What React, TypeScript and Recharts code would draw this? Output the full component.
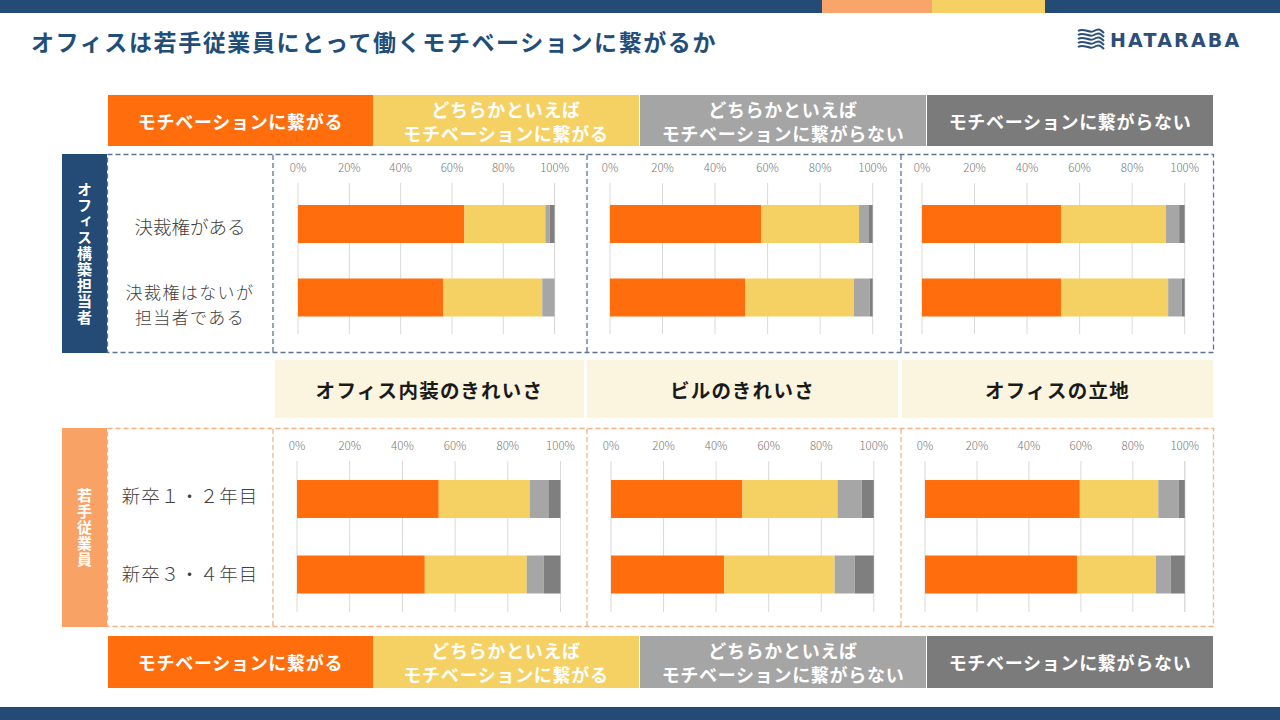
import React from 'react';
import { BarChart, Bar, XAxis, YAxis, CartesianGrid } from 'recharts';

const legendLabels = [
  ['モチベーションに繋がる'],
  ['どちらかといえば', 'モチベーションに繋がる'],
  ['どちらかといえば', 'モチベーションに繋がらない'],
  ['モチベーションに繋がらない'],
];
const seriesKeys = ['yes', 'ratherYes', 'ratherNo', 'no'];
const seriesColors = ['#FF6D0D', '#F4D162', '#A6A6A6', '#7F7F7F'];
const legendColors = ['#FF6D0D', '#F4D162', '#A5A5A5', '#7B7B7B'];

const upperRows = ['決裁権がある', '決裁権はないが担当者である'];
const lowerRows = ['新卒１・２年目', '新卒３・４年目'];
const factors = ['オフィス内装のきれいさ', 'ビルのきれいさ', 'オフィスの立地'];
const pctTicks = [0, 20, 40, 60, 80, 100];

// [motivates, rather motivates, rather not, not] in %
const upperInterior = [[64.8, 31.6, 1.7, 1.9], [56.6, 38.6, 4.8, 0]];
const upperBuilding = [[57.5, 37.3, 3.8, 1.4], [51.4, 41.4, 6.1, 1.1]];
const upperLocation = [[53.0, 39.9, 5.0, 2.1], [53.0, 40.7, 5.2, 1.1]];
const lowerInterior = [[53.8, 34.5, 7.1, 4.6], [48.5, 38.7, 6.4, 6.4]];
const lowerBuilding = [[50.0, 36.2, 9.2, 4.6], [43.1, 42.0, 7.6, 7.3]];
const lowerLocation = [[59.6, 30.2, 7.8, 2.4], [58.5, 30.4, 5.7, 5.4]];

const buildRows = (rows: string[], vals: number[][]) =>
  rows.map((name, i) => {
    const o: any = { name };
    seriesKeys.forEach((k, j) => (o[k] = vals[i][j]));
    return o;
  });

const FONT = '"Noto Sans CJK JP", "Noto Sans", sans-serif';
const NAVY = '#234B75';

const upperPlotX = [[297.7, 554.3], [609.9, 872.6], [922, 1184.7]];
const lowerPlotX = [[296.5, 560], [610.6, 873.4], [925.2, 1185]];

function Panel({ data, x0, x1, top, padTop }: any) {
  const w = x1 - x0;
  return (
    <div style={{ position: 'absolute', left: x0 - 20, top }}>
      <BarChart
        width={w + 40}
        height={189}
        data={data}
        layout="vertical"
        margin={{ top: 5, right: 20, bottom: 5, left: 20 }}
        barSize={38}
      >
        <CartesianGrid horizontal={false} stroke="#D9D9D9" />
        <XAxis
          type="number"
          orientation="top"
          domain={[0, 100]}
          ticks={pctTicks}
          tickFormatter={(v: number) => `${v}%`}
          axisLine={false}
          tickLine={false}
          tickSize={6}
          tickMargin={5}
          height={28}
          tick={{ fontSize: 11.5, fill: '#767676', fontFamily: FONT, fontWeight: 300 }}
        />
        <YAxis type="category" dataKey="name" hide padding={{ top: padTop, bottom: 0 }} />
        {seriesKeys.map((k, i) => (
          <Bar key={k} dataKey={k} stackId="s" fill={seriesColors[i]} isAnimationActive={false} />
        ))}
      </BarChart>
    </div>
  );
}

function Legend({ top, height }: { top: number; height: number }) {
  const xs = [[108, 373], [373, 639], [640, 926], [927, 1213]];
  return (
    <>
      {legendLabels.map((lines, i) => (
        <div
          key={i}
          style={{
            position: 'absolute',
            left: xs[i][0],
            top,
            width: xs[i][1] - xs[i][0],
            height,
            background: legendColors[i],
            color: '#fff',
            fontWeight: 700,
            fontSize: 18,
            lineHeight: '24px',
            display: 'flex',
            flexDirection: 'column',
            alignItems: 'center',
            justifyContent: 'center',
            letterSpacing: 0.7,
          }}
        >
          {lines.map((l, j) => (
            <div key={j}>{l}</div>
          ))}
        </div>
      ))}
    </>
  );
}

function Logo() {
  const waves = [0, 4, 8, 12, 16];
  return (
    <div style={{ position: 'absolute', left: 1077, top: 28, display: 'flex', alignItems: 'center' }}>
      <svg width={28} height={24}>
        {waves.map((dy, i) => (
          <path
            key={i}
            d={`M1 ${3 + dy} C7 ${-1 + dy}, 12 ${6 + dy}, 17 ${3 + dy} S24 ${2 + dy}, 27 ${5 + dy}`}
            stroke="#2B4E7A"
            strokeWidth={2}
            fill="none"
          />
        ))}
      </svg>
      <span
        style={{
          marginLeft: 5,
          fontFamily: '"DejaVu Sans", sans-serif',
          fontWeight: 700,
          fontSize: 19,
          letterSpacing: 2.2,
          color: '#2B4E7A',
        }}
      >
        HATARABA
      </span>
    </div>
  );
}

export default function App() {
  const upperData = [upperInterior, upperBuilding, upperLocation].map((v) => buildRows(upperRows, v));
  const lowerData = [lowerInterior, lowerBuilding, lowerLocation].map((v) => buildRows(lowerRows, v));
  const catX = [[275, 584], [587, 898], [902, 1213]];
  const rowLabelStyle: React.CSSProperties = {
    position: 'absolute',
    width: 150,
    left: 115,
    textAlign: 'center',
    fontSize: 18.5,
    fontWeight: 300,
    color: '#404040',
    lineHeight: '22px',
    whiteSpace: 'nowrap',
  };
  const twoLine: React.CSSProperties = {
    ...rowLabelStyle,
    fontSize: 17,
    letterSpacing: 1.4,
    lineHeight: '20px',
  };
  const vertLabel: React.CSSProperties = {
    writingMode: 'vertical-rl',
    textOrientation: 'upright',
    color: '#fff',
    fontWeight: 700,
    fontSize: 15,
    letterSpacing: 1,
  };
  return (
    <div
      style={{
        position: 'absolute',
        left: 0,
        top: 0,
        width: 1280,
        height: 720,
        background: '#fff',
        fontFamily: FONT,
        overflow: 'hidden',
      }}
    >
      {/* top band */}
      <div style={{ position: 'absolute', left: 0, top: 0, width: 1280, height: 13, background: NAVY }} />
      <div style={{ position: 'absolute', left: 822, top: 0, width: 110, height: 13, background: '#F9A46B' }} />
      <div style={{ position: 'absolute', left: 932, top: 0, width: 113, height: 13, background: '#F4D162' }} />
      <div style={{ position: 'absolute', left: 0, top: 707, width: 1280, height: 13, background: NAVY }} />

      <div
        style={{
          position: 'absolute',
          left: 31,
          top: 24,
          fontSize: 23,
          letterSpacing: 1.6,
          fontWeight: 700,
          color: '#1F4E79',
          whiteSpace: 'nowrap',
        }}
      >
        オフィスは若手従業員にとって働くモチベーションに繋がるか
      </div>
      <Logo />

      <Legend top={95} height={51} />
      <Legend top={636} height={52} />

      {/* side labels */}
      <div
        style={{
          position: 'absolute',
          left: 62,
          top: 154,
          width: 45,
          height: 199,
          background: NAVY,
          display: 'flex',
          alignItems: 'center',
          justifyContent: 'center',
        }}
      >
        <div style={vertLabel}>オフィス構築担当者</div>
      </div>
      <div
        style={{
          position: 'absolute',
          left: 62,
          top: 428,
          width: 45,
          height: 199,
          background: '#F9A265',
          display: 'flex',
          alignItems: 'center',
          justifyContent: 'center',
        }}
      >
        <div style={vertLabel}>若手従業員</div>
      </div>

      {/* row labels */}
      <div style={{ ...rowLabelStyle, top: 215 }}>{upperRows[0]}</div>
      <div style={{ ...twoLine, top: 282 }}>{upperRows[1].slice(0, 7)}</div>
      <div style={{ ...twoLine, top: 307 }}>{upperRows[1].slice(7)}</div>
      <div style={{ ...rowLabelStyle, top: 484, letterSpacing: 1 }}>{lowerRows[0]}</div>
      <div style={{ ...rowLabelStyle, top: 562, letterSpacing: 1 }}>{lowerRows[1]}</div>

      {/* factor headers */}
      {factors.map((f, i) => (
        <div
          key={f}
          style={{
            position: 'absolute',
            left: catX[i][0],
            top: 360,
            width: catX[i][1] - catX[i][0],
            height: 58,
            background: '#FBF4DF',
            display: 'flex',
            alignItems: 'center',
            justifyContent: 'center',
            fontWeight: 700,
            fontSize: 19.5,
            letterSpacing: 1.3,
            color: '#1a1a1a',
          }}
        >
          {f}
        </div>
      ))}

      {upperData.map((d, i) => (
        <Panel key={'u' + i} data={d} x0={upperPlotX[i][0]} x1={upperPlotX[i][1]} top={150} padTop={4} />
      ))}
      {lowerData.map((d, i) => (
        <Panel key={'l' + i} data={d} x0={lowerPlotX[i][0]} x1={lowerPlotX[i][1]} top={428} padTop={0} />
      ))}

      {/* dashed frames */}
      <svg width={1280} height={720} style={{ position: 'absolute', left: 0, top: 0, pointerEvents: 'none' }}>
        <g stroke="#5A7394" strokeWidth={1.3} strokeDasharray="5 3" fill="none">
          <rect x={107.5} y={154.5} width={1106} height={198} />
          {[273, 587, 901].map((x) => (
            <line key={x} x1={x} y1={155} x2={x} y2={352} />
          ))}
        </g>
        <g stroke="#F4B183" strokeWidth={1.3} strokeDasharray="5 3" fill="none">
          <rect x={107.5} y={428.5} width={1106} height={198} />
          {[273, 587, 901].map((x) => (
            <line key={x} x1={x} y1={429} x2={x} y2={626} />
          ))}
        </g>
      </svg>
    </div>
  );
}
